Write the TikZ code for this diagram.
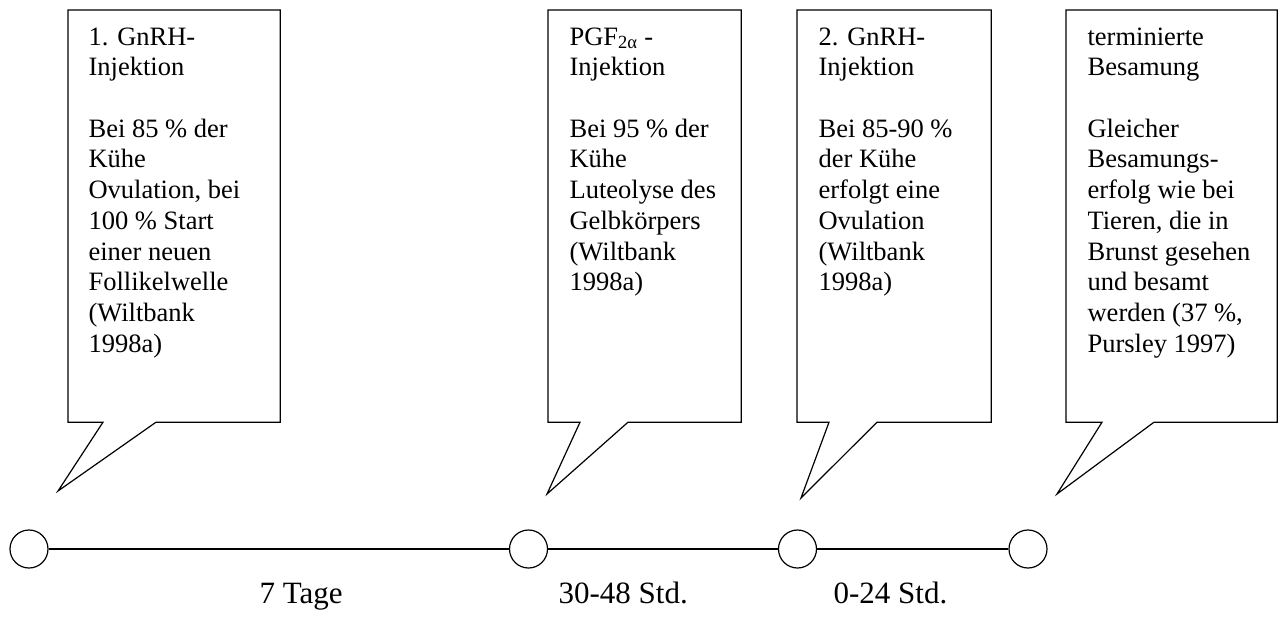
\documentclass[tikz,border=0pt]{standalone}
\usepackage{fontspec}
\setmainfont{Liberation Serif}
\begin{document}
\begin{tikzpicture}[x=1pt, y=-1pt, line width=1.2pt,
    box/.style={rectangle, inner sep=0pt, anchor=north west, minimum height=411pt},
    boxtext/.style={anchor=north west, inner sep=0pt, align=left, font=\fontsize{26.5}{30.7}\selectfont},
    stage/.style={draw, circle, inner sep=0pt, minimum size=38pt},
    span/.style={anchor=base west, inner sep=0pt, font=\fontsize{31}{36}\selectfont}]
    \useasboundingbox (0,0) rectangle (1278,619);

    \node[box, minimum width=211pt] (inj1) at (68,10) {};
    \node[box, minimum width=192pt] (pgf) at (548,10) {};
    \node[box, minimum width=193pt] (inj2) at (797,10) {};
    \node[box, minimum width=210pt] (tai) at (1066,10) {};

    \coordinate (tip1) at (58,491);
    \coordinate (tip2) at (547,494);
    \coordinate (tip3) at (801,498);
    \coordinate (tip4) at (1057,494);

    \draw (inj1.north west) -- (inj1.north east) -- (inj1.south east) -- ([xshift=88pt]inj1.south west) -- (tip1) -- ([xshift=35pt]inj1.south west) -- (inj1.south west) -- cycle;
    \draw (pgf.north west) -- (pgf.north east) -- (pgf.south east) -- ([xshift=80pt]pgf.south west) -- (tip2) -- ([xshift=32pt]pgf.south west) -- (pgf.south west) -- cycle;
    \draw (inj2.north west) -- (inj2.north east) -- (inj2.south east) -- ([xshift=80pt]inj2.south west) -- (tip3) -- ([xshift=32pt]inj2.south west) -- (inj2.south west) -- cycle;
    \draw (tai.north west) -- (tai.north east) -- (tai.south east) -- ([xshift=88pt]tai.south west) -- (tip4) -- ([xshift=36pt]tai.south west) -- (tai.south west) -- cycle;

    \node[boxtext] (inj1txt) at ([xshift=20pt, yshift=-17pt]inj1.north west) {1. GnRH-\\ Injektion\\[30.7pt] Bei 85 \% der\\ Kühe\\ Ovulation, bei\\ 100 \% Start\\ einer neuen\\ Follikelwelle\\ (Wiltbank\\ 1998a)};
    \node[boxtext] (pgftxt) at ([xshift=21pt, yshift=-17pt]pgf.north west) {PGF\textsubscript{2α} -\\ Injektion\\[30.7pt] Bei 95 \% der\\ Kühe\\ Luteolyse des\\ Gelbkörpers\\ (Wiltbank\\ 1998a)};
    \node[boxtext] (inj2txt) at ([xshift=21pt, yshift=-17pt]inj2.north west) {2. GnRH-\\ Injektion\\[30.7pt] Bei 85-90 \%\\ der Kühe\\ erfolgt eine\\ Ovulation\\ (Wiltbank\\ 1998a)};
    \node[boxtext] (taitxt) at ([xshift=21pt, yshift=-17pt]tai.north west) {terminierte\\ Besamung\\[30.7pt] Gleicher\\ Besamungs-\\ erfolg wie bei\\ Tieren, die in\\ Brunst gesehen\\ und besamt\\ werden (37 \%,\\ Pursley 1997)};

    \node[stage] (s1) at (29,549) {};
    \node[stage] (s2) at (528.5,549) {};
    \node[stage] (s3) at (797.5,549) {};
    \node[stage] (s4) at (1028,549) {};

    \draw (s1) -- (s2);
    \draw (s2) -- (s3);
    \draw (s3) -- (s4);

    \node[span] (d1) at (259,603) {7 Tage};
    \node[span] (d2) at (558,603) {30-48 Std.};
    \node[span] (d3) at (833,603) {0-24 Std.};
\end{tikzpicture}
\end{document}
